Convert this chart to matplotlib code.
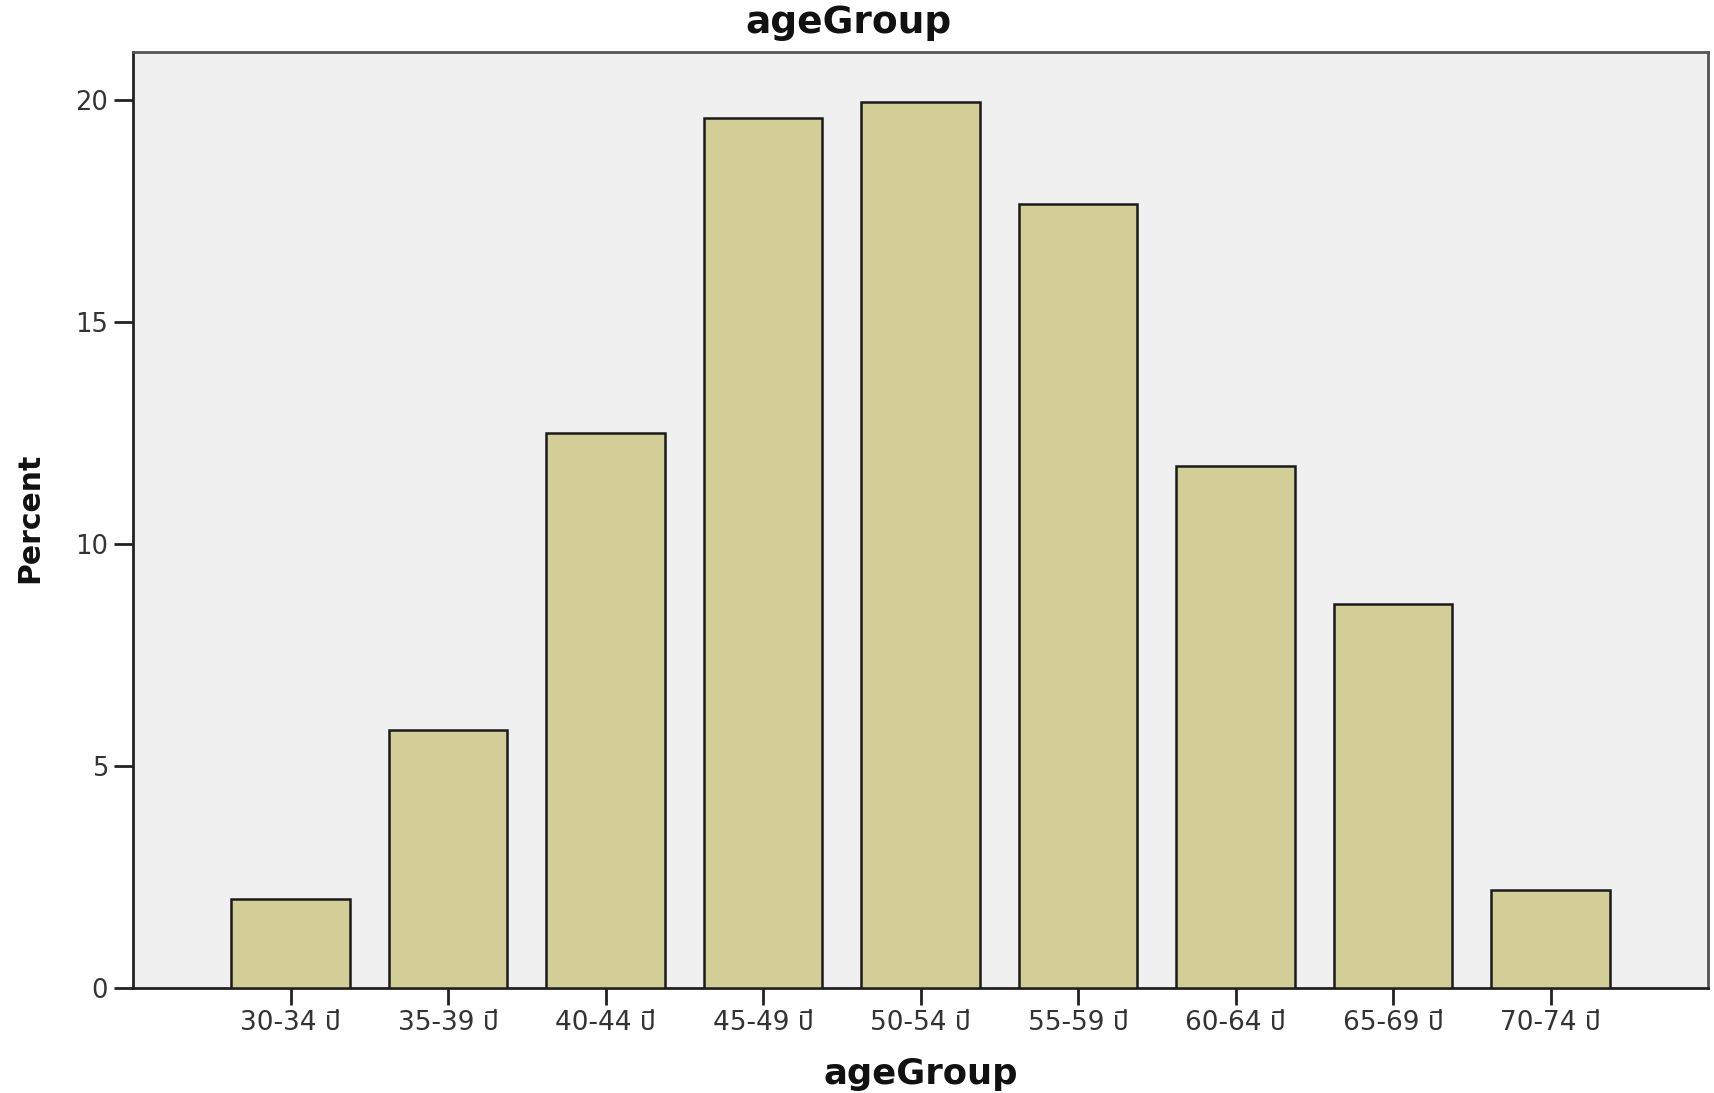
import matplotlib
matplotlib.use("Agg")
import matplotlib.pyplot as plt
from matplotlib import font_manager

# --- data ---
age_groups = ["30-34 ปี", "35-39 ปี", "40-44 ปี", "45-49 ปี", "50-54 ปี",
              "55-59 ปี", "60-64 ปี", "65-69 ปี", "70-74 ปี"]
percent = [2.0, 5.8, 12.5, 19.6, 19.95, 17.65, 11.75, 8.65, 2.2]
y_ticks = [0, 5, 10, 15, 20]

# pick a Thai-capable family if one is installed, DejaVu Sans for the rest
installed = {f.name for f in font_manager.fontManager.ttflist}
thai_candidates = ["Noto Sans Thai", "Noto Sans Thai Looped", "Loma", "Garuda",
                   "Norasi", "Kinnari", "Waree", "Sawasdee", "Tlwg Typo", "Umpush"]
families = ["DejaVu Sans"] + [f for f in thai_candidates if f in installed]
plt.rcParams["font.family"] = families

BAR_FILL = "#D3CE97"
BG = "#F0F0F0"

fig = plt.figure(figsize=(17.15, 10.93), dpi=100)
ax = fig.add_axes([133 / 1715, 1 - 988 / 1093, (1708 - 133) / 1715, (988 - 52) / 1093])
ax.set_facecolor(BG)

x = list(range(len(age_groups)))
ax.bar(x, percent, width=0.75, color=BAR_FILL, edgecolor="#1a1a1a", linewidth=1.8, zorder=3)

ax.set_xlim(-1, 9)
ax.set_ylim(0, 21.08)
ax.set_xticks(x)
ax.set_xticklabels(age_groups, fontsize=19, color="#333333")
ax.set_yticks(y_ticks)
ax.set_yticklabels([str(t) for t in y_ticks], fontsize=18.5, color="#333333")
ax.tick_params(axis="x", direction="out", length=12, width=2, color="#222222", pad=4)
ax.tick_params(axis="y", direction="out", length=14, width=2, color="#222222", pad=4)

for side in ["left", "bottom"]:
    ax.spines[side].set_color("#222222")
    ax.spines[side].set_linewidth(2)
for side in ["top", "right"]:
    ax.spines[side].set_color("#555555")
    ax.spines[side].set_linewidth(2)

fig.text(848 / 1715, 1 - 23 / 1093, "ageGroup", ha="center", va="center",
         fontsize=27, fontweight="bold", color="#111111")
fig.text(0.5 * (133 + 1708) / 1715, 1 - 1074 / 1093, "ageGroup", ha="center", va="center",
         fontsize=25.5, fontweight="bold", color="#111111")
fig.text(30 / 1715, 1 - 518 / 1093, "Percent", ha="center", va="center", rotation=90,
         fontsize=21.5, fontweight="bold", color="#111111")

fig.savefig("out.png", dpi=100, facecolor="white")
